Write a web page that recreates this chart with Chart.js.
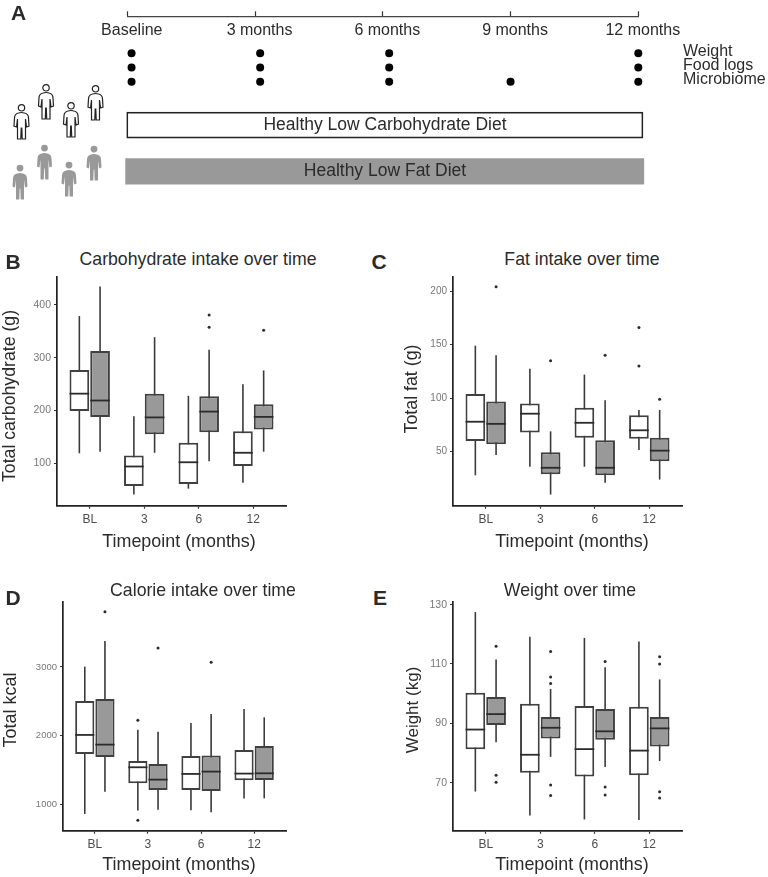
<!DOCTYPE html>
<html>
<head>
<meta charset="utf-8">
<title>Diet trial boxplots</title>
<script src="https://cdn.jsdelivr.net/npm/chart.js@4"></script>
<style>
  html, body { margin: 0; background: #fff; }
  #page { position: relative; width: 768px; height: 877px; overflow: hidden; font-family: "Liberation Sans", Arial, sans-serif; color: #2b2b2b; }
  canvas { position: absolute; }
  .lbl { position: absolute; white-space: nowrap; line-height: 1; }
  svg { position: absolute; left: 0; top: 0; }
</style>
</head>
<body>
<div id="page">
  <svg width="120" height="210">
    <defs>
      <path id="person" d="M5 9 Q8 8 11 9 Q15 10 15 14 L15.5 22 L13 23 L12 15 L12 35 L8.7 35 L8.3 24 L7.7 24 L7.3 35 L4 35 L4 15 L3 23 L0.5 22 L1 14 Q1 10 5 9Z"/>
    </defs>
    <g id="people"></g>
  </svg>
</div>
<script>
// Timeline (panel A)
const timeMonths = [0, 3, 6, 9, 12];
const timeLabels = ['Baseline', '3 months', '6 months', '9 months', '12 months'];
const rowNames = ['Weight', 'Food logs', 'Microbiome'];
const weightMonths = [0.1, 3.12, 6.15, 12];
const foodMonths = [0.1, 3.12, 6.15, 12];
const microMonths = [0.1, 3.12, 6.15, 9, 12];

// Boxplots: each row is [low whisker, q1, median, q3, high whisker] for BL, 3, 6, 12
const timepoints = ['BL', '3', '6', '12'];

const carbLow = [[119, 199, 232, 277, 379], [41, 57, 94, 115, 189], [52, 61, 102, 139, 228], [63, 95, 120, 161, 250]];
const carbFat = [[122, 188, 219, 313, 435], [120, 155, 187, 232, 339], [104, 159, 198, 227, 315], [122, 164, 188, 212, 276]];
const carbLowOut = [[], [], [], []];
const carbFatOut = [[], [], [381, 358], [352]];
const carbTicks = [100, 200, 300, 400];

const fatLow = [[28, 60, 78, 104, 149], [36, 68, 85.5, 95, 127.5], [36, 63, 77, 91, 122], [51.5, 62, 70, 84, 89]];
const fatFat = [[47, 57, 76, 97, 140], [10, 29, 35, 49.4, 69], [21, 28, 35, 60.6, 98], [24, 41, 51, 63, 89]];
const fatLowOut = [[], [], [], [166, 130]];
const fatFatOut = [[204], [135], [140], [99]];
const fatTicks = [50, 100, 150, 200];

const kcalLow = [[859, 1733, 2010, 2505, 3005], [908, 1306, 1539, 1631, 2087], [913, 1209, 1442, 1704, 2184], [1083, 1350, 1447, 1791, 2388]];
const kcalFat = [[1184, 1689, 1869, 2534, 3379], [922, 1209, 1359, 1587, 2058], [883, 1194, 1476, 1709, 2316], [1087, 1354, 1451, 1850, 2267]];
const kcalLowOut = [[], [2223, 767], [], []];
const kcalFatOut = [[3806], [3277], [3068], []];
const kcalTicks = [1000, 2000, 3000];

const weightLow = [[67, 81.3, 87.9, 100.3, 127.5], [58.9, 73.3, 79.4, 96.6, 119.2], [57.6, 72.1, 81.3, 95.8, 118.8], [57.4, 72.5, 80.8, 95.6, 117.6]];
const weightFat = [[83.6, 89.4, 93.1, 98.9, 111.5], [78.7, 84.9, 88.5, 92.1, 101.6], [75.3, 84.5, 87.3, 94.8, 108.9], [77.3, 82.2, 88.3, 92.1, 104.8]];
const weightLowOut = [[], [], [], []];
const weightFatOut = [[116, 72.5, 70.1], [114.2, 105.6, 103.4, 69.2, 65.7], [110.8, 68.5, 65.8], [112.4, 110, 66.9, 64.8]];
const weightTicks = [70, 90, 110, 130];

const page = document.getElementById('page');
Chart.defaults.font.family = '"Liberation Sans", Arial, sans-serif';
Chart.defaults.animation = false;
Chart.defaults.responsive = false;

function addCanvas(left, top, width, height) {
  const c = document.createElement('canvas');
  c.width = width;
  c.height = height;
  c.style.left = left + 'px';
  c.style.top = top + 'px';
  page.appendChild(c);
  return c.getContext('2d');
}

function addLabel(text, x, y, size, opts = {}) {
  const d = document.createElement('div');
  d.className = 'lbl';
  d.textContent = text;
  d.style.left = x + 'px';
  d.style.top = y + 'px';
  d.style.fontSize = size + 'px';
  d.style.transform = 'translate(-50%, -50%)' + (opts.vertical ? ' rotate(-90deg)' : '');
  if (opts.bold) d.style.fontWeight = 'bold';
  page.appendChild(d);
}

// tick padding would otherwise push the plot area away from where it belongs
function noAxisPadding(s) {
  s.paddingTop = 0;
  s.paddingBottom = 0;
  s.paddingLeft = 0;
  s.paddingRight = 0;
}

// whiskers sit behind the boxes, medians and outliers on top
const boxParts = {
  id: 'boxParts',
  beforeDatasetsDraw(chart) {
    const { ctx, scales: { y } } = chart;
    ctx.save();
    ctx.strokeStyle = '#3a3a3a';
    ctx.lineWidth = 1.6;
    chart.data.datasets.forEach((ds, d) => {
      chart.getDatasetMeta(d).data.forEach((bar, i) => {
        ctx.beginPath();
        ctx.moveTo(bar.x, y.getPixelForValue(ds.stats[i][0]));
        ctx.lineTo(bar.x, y.getPixelForValue(ds.stats[i][4]));
        ctx.stroke();
      });
    });
    ctx.restore();
  },
  afterDatasetsDraw(chart) {
    const { ctx, scales: { y } } = chart;
    ctx.save();
    chart.data.datasets.forEach((ds, d) => {
      chart.getDatasetMeta(d).data.forEach((bar, i) => {
        const my = y.getPixelForValue(ds.stats[i][2]);
        ctx.strokeStyle = '#2b2b2b';
        ctx.lineWidth = 1.8;
        ctx.beginPath();
        ctx.moveTo(bar.x - bar.width / 2, my);
        ctx.lineTo(bar.x + bar.width / 2, my);
        ctx.stroke();
        ctx.fillStyle = '#2b2b2b';
        ds.outliers[i].forEach(v => {
          ctx.beginPath();
          ctx.arc(bar.x, y.getPixelForValue(v), 1.5, 0, Math.PI * 2);
          ctx.fill();
        });
      });
    });
    ctx.restore();
  }
};

function boxDataset(rows, outliers, fill) {
  return {
    data: rows.map((r, i) => ({ x: i, y: [r[1], r[3]] })),
    stats: rows,
    outliers: outliers,
    backgroundColor: fill,
    borderColor: '#404040',
    borderWidth: 2,
    borderSkipped: false,
    categoryPercentage: 0.76,
    barPercentage: 0.95
  };
}

function boxPanel(p) {
  const pad = 6;
  const left = p.canvasLeft, top = Math.floor(p.plotTop) - pad;
  const width = p.plotRight - left + pad;
  const xHeight = 30;
  const height = Math.ceil(p.plotBottom - top + xHeight);
  new Chart(addCanvas(left, top, width, height), {
    type: 'bar',
    data: { datasets: [boxDataset(p.low, p.lowOut, '#ffffff'), boxDataset(p.fat, p.fatOut, '#999999')] },
    plugins: [boxParts],
    options: {
      layout: { padding: { top: p.plotTop - top, right: pad, bottom: height - (p.plotBottom - top) - xHeight } },
      plugins: { legend: { display: false }, tooltip: { enabled: false } },
      scales: {
        x: {
          type: 'linear', min: -0.6, max: 3.6, offset: false,
          afterBuildTicks: s => { s.ticks = timepoints.map((_, i) => ({ value: i })); },
          afterFit: s => { s.height = xHeight; noAxisPadding(s); },
          ticks: { callback: v => timepoints[v], color: '#4d4d4d', font: { size: 12 }, padding: 4, maxRotation: 0, autoSkip: false },
          grid: { offset: false, drawOnChartArea: false, tickLength: 3, tickColor: '#333', tickWidth: 1.2 },
          border: { color: '#222', width: 1.7 }
        },
        y: {
          min: p.min, max: p.max,
          afterBuildTicks: s => { s.ticks = p.ticks.map(v => ({ value: v })); },
          afterFit: s => { s.width = p.plotLeft - left; noAxisPadding(s); },
          ticks: { callback: v => String(v), color: '#777', font: { size: p.tickSize }, padding: 3, autoSkip: false },
          grid: { drawOnChartArea: false, tickLength: 3, tickColor: '#333', tickWidth: 1.2 },
          border: { color: '#222', width: 1.7 }
        }
      }
    }
  });
}

boxPanel({ canvasLeft: 0, plotLeft: 57, plotRight: 286, plotTop: 276.7, plotBottom: 505.7, min: 19.7, max: 453.6,
  low: carbLow, fat: carbFat, lowOut: carbLowOut, fatOut: carbFatOut, ticks: carbTicks, tickSize: 10.5 });
boxPanel({ canvasLeft: 402, plotLeft: 453, plotRight: 682, plotTop: 276.7, plotBottom: 505.7, min: -0.4, max: 213.4,
  low: fatLow, fat: fatFat, lowOut: fatLowOut, fatOut: fatFatOut, ticks: fatTicks, tickSize: 10 });
boxPanel({ canvasLeft: 0, plotLeft: 63, plotRight: 286, plotTop: 601.7, plotBottom: 830.7, min: 615, max: 3951,
  low: kcalLow, fat: kcalFat, lowOut: kcalLowOut, fatOut: kcalFatOut, ticks: kcalTicks, tickSize: 9.5 });
boxPanel({ canvasLeft: 402, plotLeft: 453, plotRight: 682, plotTop: 601.7, plotBottom: 830.7, min: 53.8, max: 131,
  low: weightLow, fat: weightFat, lowOut: weightLowOut, fatOut: weightFatOut, ticks: weightTicks, tickSize: 10.5 });

// Panel A: study timeline
function dotRow(months, row) {
  return {
    type: 'scatter',
    data: months.map(m => ({ x: m, y: row })),
    backgroundColor: '#000',
    borderWidth: 0,
    pointRadius: 4,
    clip: false
  };
}

function dietBar(span, row, fill, edge, width, thick) {
  return {
    type: 'bar',
    indexAxis: 'y',
    grouped: false,
    data: [{ x: span, y: row }],
    backgroundColor: fill,
    borderColor: edge,
    borderWidth: width,
    borderSkipped: false,
    barThickness: thick,
    clip: false
  };
}

new Chart(addCanvas(0, 0, 768, 205), {
  type: 'scatter',
  data: {
    datasets: [
      dotRow(weightMonths, 1),
      dotRow(foodMonths, 2),
      dotRow(microMonths, 3),
      dietBar([-0.014, 12.11], 6.03, '#ffffff', '#222222', 1.7, 26),
      dietBar([-0.04, 12.13], 9.27, '#999999', '#999999', 0, 25.5)
    ]
  },
  options: {
    layout: { padding: { left: 127.3 } },
    plugins: { legend: { display: false }, tooltip: { enabled: false } },
    scales: {
      x: {
        type: 'linear', position: 'top', min: 0, max: 12, offset: false,
        afterBuildTicks: s => { s.ticks = timeMonths.map(v => ({ value: v })); },
        afterFit: s => { s.height = 16.3; noAxisPadding(s); },
        ticks: { callback: v => timeLabels[timeMonths.indexOf(v)], mirror: true, padding: 5, labelOffset: 4.5, color: '#2b2b2b', font: { size: 16 }, maxRotation: 0, autoSkip: false },
        grid: { offset: false, drawOnChartArea: false, tickLength: 5, tickColor: '#333', tickWidth: 1.2 },
        border: { color: '#444', width: 1.2 }
      },
      y: {
        type: 'linear', position: 'right', reverse: true, min: -1.575, max: 11.34, offset: false,
        afterBuildTicks: s => { s.ticks = rowNames.map((_, i) => ({ value: i + 1 })); },
        afterFit: s => { s.width = 768 - 638.3; noAxisPadding(s); },
        ticks: { callback: v => rowNames[v - 1], padding: 44.7, labelOffset: -2, color: '#2b2b2b', font: { size: 16 }, autoSkip: false },
        grid: { offset: false, display: false, drawTicks: false, tickLength: 0 },
        border: { display: false }
      }
    }
  }
});

addLabel('Healthy Low Carbohydrate Diet', 385, 125, 17.5);
addLabel('Healthy Low Fat Diet', 385, 171, 17.5);

addLabel('A', 18.5, 11.5, 21, { bold: true });
addLabel('B', 13, 260.5, 21, { bold: true });
addLabel('C', 379, 260.5, 21, { bold: true });
addLabel('D', 13, 597, 21, { bold: true });
addLabel('E', 380, 597, 21, { bold: true });

addLabel('Carbohydrate intake over time', 198, 259.5, 17.7);
addLabel('Fat intake over time', 582, 259.5, 17.7);
addLabel('Calorie intake over time', 203, 591, 17.7);
addLabel('Weight over time', 570, 591, 17.7);

addLabel('Timepoint (months)', 179, 541.7, 17.9);
addLabel('Timepoint (months)', 572, 541.7, 17.9);
addLabel('Timepoint (months)', 179, 865, 17.9);
addLabel('Timepoint (months)', 572, 865, 17.9);

addLabel('Total carbohydrate (g)', 9.5, 396, 17.7, { vertical: true });
addLabel('Total fat (g)', 412, 389, 17.8, { vertical: true });
addLabel('Total kcal', 9.5, 709.7, 18, { vertical: true });
addLabel('Weight (kg)', 412, 709.7, 17, { vertical: true });

// little people on the left of panel A
const outlined = [[21.5, 104], [46, 84], [71, 102], [95.5, 85]];
const solid = [[20, 164.5], [44.5, 144.5], [69, 161.5], [94, 145.5]];
let marks = '';
outlined.forEach(([x, y]) => {
  marks += `<g transform="translate(${x - 8},${y})"><circle cx="8" cy="3.8" r="3.2" fill="#fff" stroke="#222" stroke-width="1.2"/><use href="#person" fill="#fff" stroke="#222" stroke-width="1.2"/></g>`;
});
solid.forEach(([x, y]) => {
  marks += `<g transform="translate(${x - 8},${y})"><circle cx="8" cy="3.6" r="3.4" fill="#999"/><use href="#person" fill="#999"/></g>`;
});
document.getElementById('people').innerHTML = marks;
</script>
</body>
</html>
